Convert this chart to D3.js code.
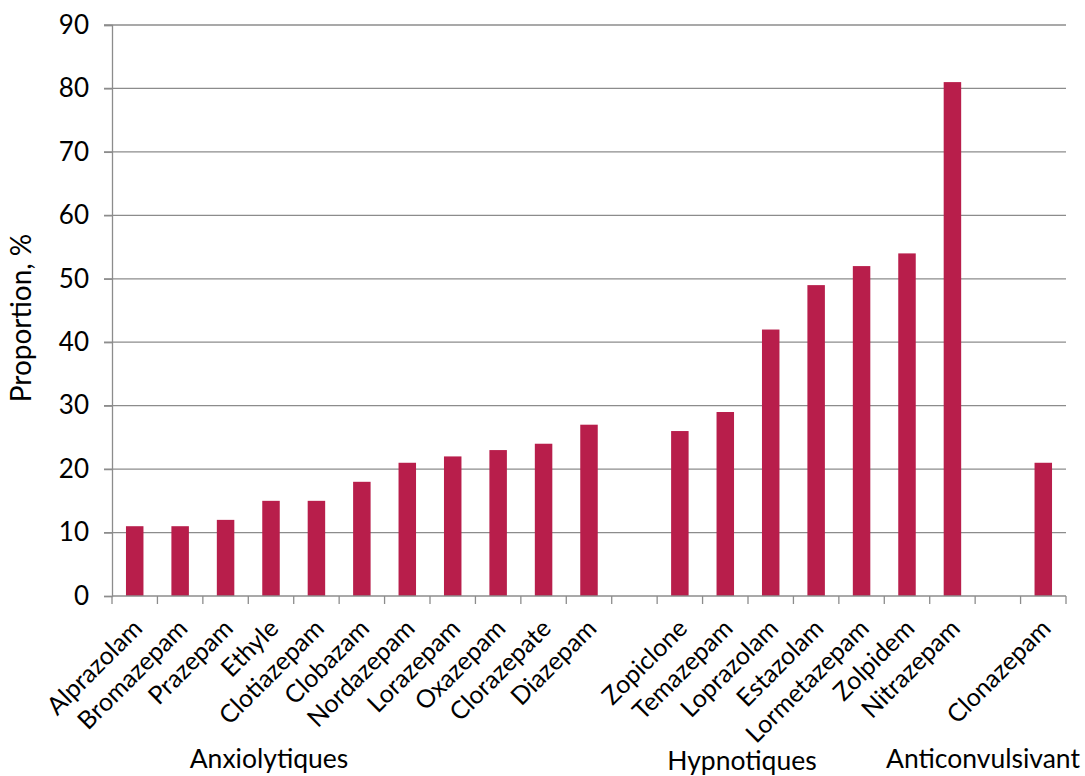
<!DOCTYPE html>
<html>
<head>
<meta charset="utf-8">
<script src="https://cdn.jsdelivr.net/npm/d3@7"></script>
<style>
body { margin: 0; background: #fff; }
text { font-family: Lato, "Open Sans", sans-serif; fill: #000; }
</style>
</head>
<body>
<svg width="1085" height="776"></svg>
<script>
// categories ("" = empty slot between groups)
var drugs = ["Alprazolam", "Bromazepam", "Prazepam", "Ethyle", "Clotiazepam", "Clobazam",
	"Nordazepam", "Lorazepam", "Oxazepam", "Clorazepate", "Diazepam", "",
	"Zopiclone", "Temazepam", "Loprazolam", "Estazolam", "Lormetazepam", "Zolpidem",
	"Nitrazepam", "", "Clonazepam"];
var values = [11, 11, 12, 15, 15, 18, 21, 22, 23, 24, 27, null,
	26, 29, 42, 49, 52, 54, 81, null, 21];
var yTicks = [0, 10, 20, 30, 40, 50, 60, 70, 80, 90];
var groups = ["Anxiolytiques", "Hypnotiques", "Anticonvulsivant"];
var groupPos = [269, 742, 983];

var svg = d3.select("svg");
var mLeft = 112, mRight = 1066, mTop = 25, mBottom = 596;
var grey = "#8c8c8c";

var slots = d3.range(drugs.length);
var x = d3.scaleBand().domain(slots).range([mLeft, mRight]).paddingInner(0.615).paddingOuter(0.3075);
var xs = d3.scaleLinear().domain([0, drugs.length]).range([mLeft, mRight]);
var y = d3.scaleLinear().domain([0, 90]).range([mBottom, mTop]);

// gridlines
svg.append("g").selectAll("line").data(yTicks.slice(1)).enter().append("line")
	.attr("x1", mLeft - 8).attr("x2", mRight)
	.attr("y1", function(d) { return y(d); }).attr("y2", function(d) { return y(d); })
	.style("stroke", grey).style("stroke-width", 1.3);

// y axis
var yAxis = svg.append("g").attr("transform", "translate(" + mLeft + ",0)")
	.call(d3.axisLeft(y).tickValues(yTicks).tickSize(8).tickPadding(15));
yAxis.select(".domain").style("stroke", grey).style("stroke-width", 1.3);
yAxis.selectAll(".tick line").style("stroke", grey).style("stroke-width", 1.3);
yAxis.selectAll("text").style("font-size", "26px").style("font-family", "Lato, sans-serif");

// bars
svg.append("g").selectAll("rect").data(slots.filter(function(i) { return values[i] !== null; })).enter()
	.append("rect")
	.attr("x", function(i) { return x(i); })
	.attr("y", function(i) { return y(values[i]); })
	.attr("width", x.bandwidth())
	.attr("height", function(i) { return y(0) - y(values[i]); })
	.style("fill", "#b81e4b");

// x axis line and ticks at slot boundaries
svg.append("line").attr("x1", mLeft).attr("x2", mRight).attr("y1", mBottom).attr("y2", mBottom)
	.style("stroke", grey).style("stroke-width", 1.3);
svg.append("g").selectAll("line").data(d3.range(drugs.length + 1)).enter().append("line")
	.attr("x1", function(d) { return xs(d); }).attr("x2", function(d) { return xs(d); })
	.attr("y1", mBottom).attr("y2", mBottom + 8)
	.style("stroke", grey).style("stroke-width", 1.3);

// category labels
svg.append("g").selectAll("text").data(slots.filter(function(i) { return drugs[i] !== ""; })).enter()
	.append("text")
	.attr("transform", function(i) {
		return "translate(" + (x(i) + x.bandwidth() / 2 + 9) + "," + (mBottom + 34) + ") rotate(-45)";
	})
	.attr("text-anchor", "end")
	.style("font-size", "25px")
	.text(function(i) { return drugs[i]; });

// group labels
svg.append("g").selectAll("text").data(groups).enter().append("text")
	.attr("x", function(d, i) { return groupPos[i]; })
	.attr("y", function(d, i) { return i == 1 ? 770 : 768; })
	.attr("text-anchor", "middle")
	.style("font-size", "26.5px")
	.text(function(d) { return d; });

// y title
svg.append("text")
	.attr("transform", "translate(31,318) rotate(-90)")
	.attr("text-anchor", "middle")
	.style("font-size", "28px")
	.text("Proportion, %");
</script>
</body>
</html>
